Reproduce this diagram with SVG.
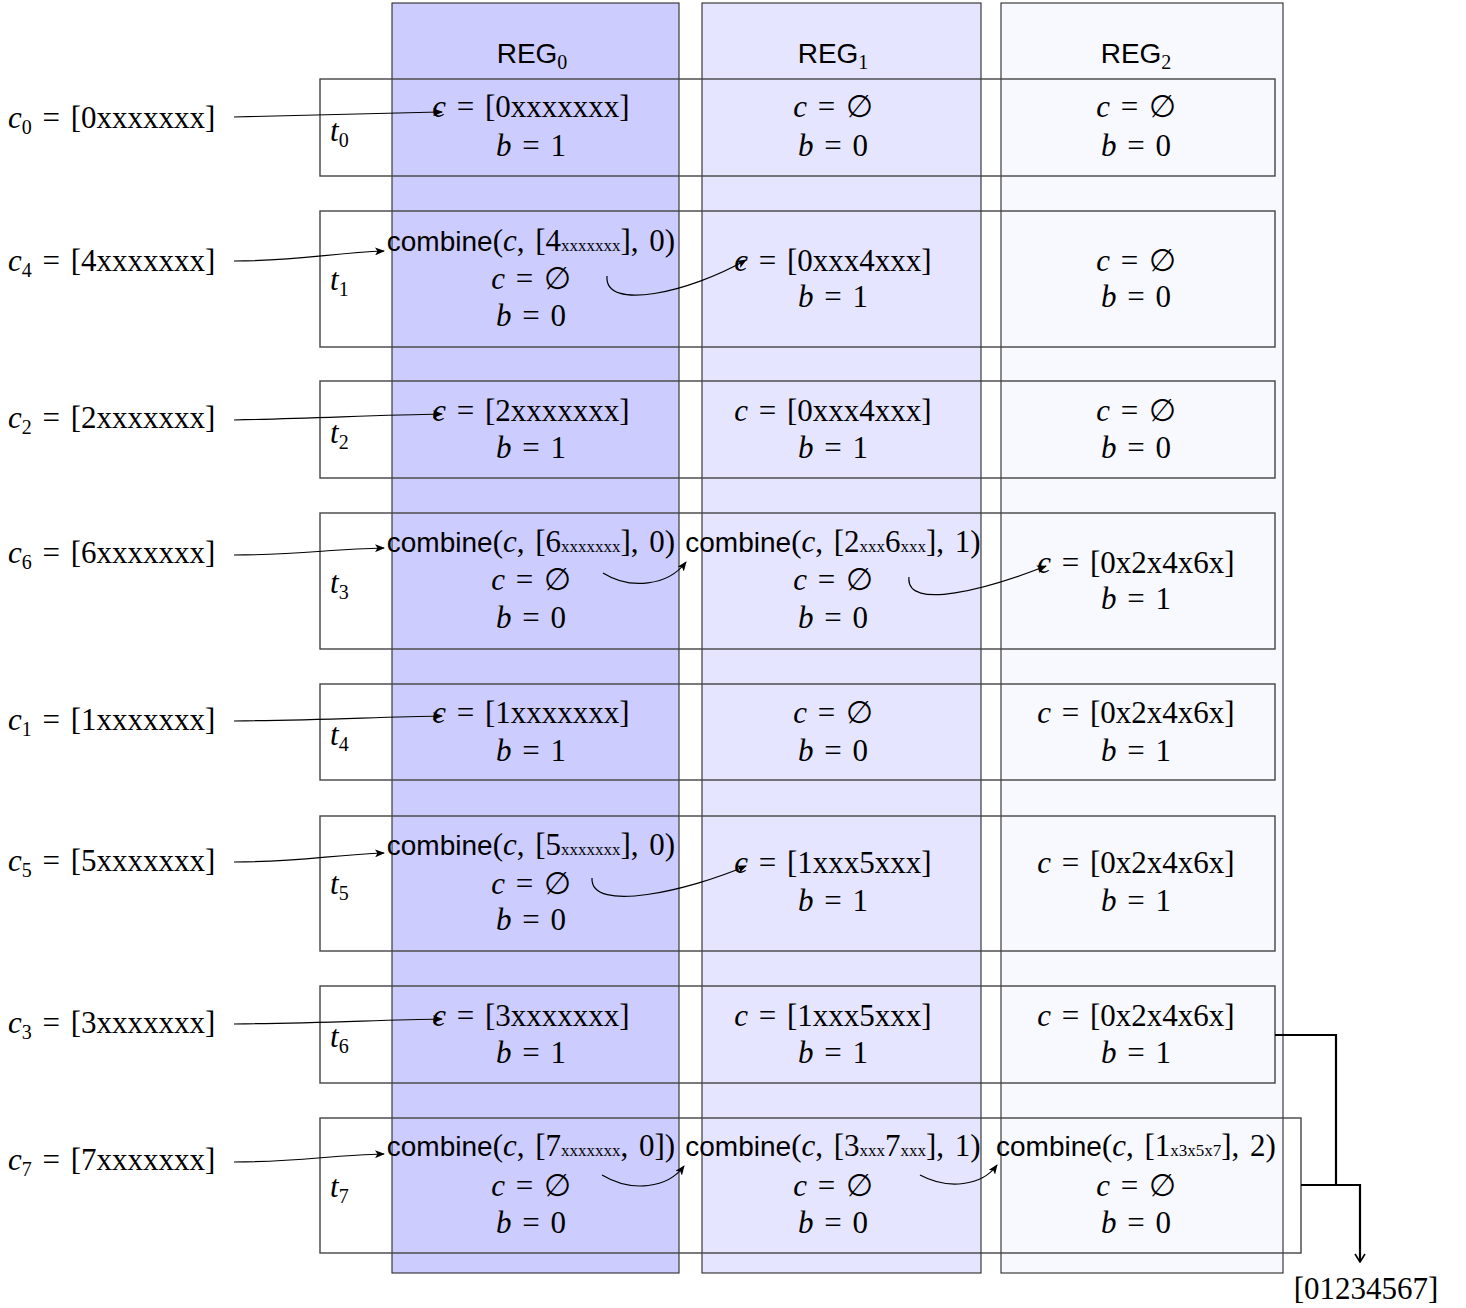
<svg xmlns="http://www.w3.org/2000/svg" width="1466" height="1308" viewBox="0 0 1466 1308">
<defs>
<style>
text{font-family:"Liberation Serif","DejaVu Serif",serif;font-size:31px;fill:#000;word-spacing:3px}
.c{text-anchor:middle}
.it{font-style:italic}
.sf{font-family:"Liberation Sans","DejaVu Sans",sans-serif;font-size:28px}
.sb{font-size:20px}
.tn{font-size:17px}
.col{stroke:#2a2a2a;stroke-width:1.1}
.row{fill:none;stroke:#444;stroke-width:1.4}
.arr{fill:none;stroke:#000;stroke-width:1.2;marker-end:url(#ah)}
.thk{fill:none;stroke:#000;stroke-width:2.2}
</style>
<marker id="ah" viewBox="0 0 10 8" refX="9" refY="4" markerWidth="10" markerHeight="8" markerUnits="userSpaceOnUse" orient="auto">
<path d="M0,0 L10,4 L0,8 L2.5,4 z" fill="#000"/>
</marker>
<marker id="oa" viewBox="0 0 10 12" refX="9" refY="6" markerWidth="10" markerHeight="12" markerUnits="userSpaceOnUse" orient="auto">
<path d="M1,1 L9,6 L1,11" fill="none" stroke="#000" stroke-width="1.6"/>
</marker>
</defs>
<rect width="1466" height="1308" fill="#fff"/>

<!-- register columns -->
<g id="reg0">
<rect class="col" x="392" y="3" width="287" height="1270" fill="#ccccff"/>
<text class="c" x="532" y="63"><tspan class="sf">REG</tspan><tspan class="sb" dy="6">0</tspan></text>
</g>
<g id="reg1">
<rect class="col" x="702" y="3" width="279" height="1270" fill="#e5e5ff"/>
<text class="c" x="833" y="63"><tspan class="sf">REG</tspan><tspan class="sb" dy="6">1</tspan></text>
</g>
<g id="reg2">
<rect class="col" x="1001" y="3" width="282" height="1270" fill="#f8f8ff"/>
<text class="c" x="1136" y="63"><tspan class="sf">REG</tspan><tspan class="sb" dy="6">2</tspan></text>
</g>

<!-- t0 -->
<g id="t0">
<rect class="row" x="320" y="79" width="955" height="97"/>
<text x="330" y="141"><tspan class="it">t</tspan><tspan class="sb" dy="6">0</tspan></text>
<text class="c" x="531" y="117"><tspan class="it">c</tspan> = [0xxxxxxx]</text>
<text class="c" x="531" y="156"><tspan class="it">b</tspan> = 1</text>
<text class="c" x="833" y="117"><tspan class="it">c</tspan> = ∅</text>
<text class="c" x="833" y="156"><tspan class="it">b</tspan> = 0</text>
<text class="c" x="1136" y="117"><tspan class="it">c</tspan> = ∅</text>
<text class="c" x="1136" y="156"><tspan class="it">b</tspan> = 0</text>
</g>

<!-- t1 -->
<g id="t1">
<rect class="row" x="320" y="211" width="955" height="136"/>
<text x="330" y="290"><tspan class="it">t</tspan><tspan class="sb" dy="6">1</tspan></text>
<text class="c" x="531" y="251"><tspan class="sf">combine</tspan>(<tspan class="it">c</tspan>, [4<tspan class="tn">xxxxxxx</tspan>], 0)</text>
<text class="c" x="531" y="289"><tspan class="it">c</tspan> = ∅</text>
<text class="c" x="531" y="326"><tspan class="it">b</tspan> = 0</text>
<text class="c" x="833" y="271"><tspan class="it">c</tspan> = [0xxx4xxx]</text>
<text class="c" x="833" y="307"><tspan class="it">b</tspan> = 1</text>
<text class="c" x="1136" y="271"><tspan class="it">c</tspan> = ∅</text>
<text class="c" x="1136" y="307"><tspan class="it">b</tspan> = 0</text>
</g>

<!-- t2 -->
<g id="t2">
<rect class="row" x="320" y="381" width="955" height="97"/>
<text x="330" y="443"><tspan class="it">t</tspan><tspan class="sb" dy="6">2</tspan></text>
<text class="c" x="531" y="421"><tspan class="it">c</tspan> = [2xxxxxxx]</text>
<text class="c" x="531" y="458"><tspan class="it">b</tspan> = 1</text>
<text class="c" x="833" y="421"><tspan class="it">c</tspan> = [0xxx4xxx]</text>
<text class="c" x="833" y="458"><tspan class="it">b</tspan> = 1</text>
<text class="c" x="1136" y="421"><tspan class="it">c</tspan> = ∅</text>
<text class="c" x="1136" y="458"><tspan class="it">b</tspan> = 0</text>
</g>

<!-- t3 -->
<g id="t3">
<rect class="row" x="320" y="513" width="955" height="136"/>
<text x="330" y="593"><tspan class="it">t</tspan><tspan class="sb" dy="6">3</tspan></text>
<text class="c" x="531" y="552"><tspan class="sf">combine</tspan>(<tspan class="it">c</tspan>, [6<tspan class="tn">xxxxxxx</tspan>], 0)</text>
<text class="c" x="531" y="590"><tspan class="it">c</tspan> = ∅</text>
<text class="c" x="531" y="628"><tspan class="it">b</tspan> = 0</text>
<text class="c" x="833" y="552"><tspan class="sf">combine</tspan>(<tspan class="it">c</tspan>, [2<tspan class="tn">xxx</tspan>6<tspan class="tn">xxx</tspan>], 1)</text>
<text class="c" x="833" y="590"><tspan class="it">c</tspan> = ∅</text>
<text class="c" x="833" y="628"><tspan class="it">b</tspan> = 0</text>
<text class="c" x="1136" y="573"><tspan class="it">c</tspan> = [0x2x4x6x]</text>
<text class="c" x="1136" y="609"><tspan class="it">b</tspan> = 1</text>
</g>

<!-- t4 -->
<g id="t4">
<rect class="row" x="320" y="684" width="955" height="96"/>
<text x="330" y="745"><tspan class="it">t</tspan><tspan class="sb" dy="6">4</tspan></text>
<text class="c" x="531" y="723"><tspan class="it">c</tspan> = [1xxxxxxx]</text>
<text class="c" x="531" y="761"><tspan class="it">b</tspan> = 1</text>
<text class="c" x="833" y="723"><tspan class="it">c</tspan> = ∅</text>
<text class="c" x="833" y="761"><tspan class="it">b</tspan> = 0</text>
<text class="c" x="1136" y="723"><tspan class="it">c</tspan> = [0x2x4x6x]</text>
<text class="c" x="1136" y="761"><tspan class="it">b</tspan> = 1</text>
</g>

<!-- t5 -->
<g id="t5">
<rect class="row" x="320" y="816" width="955" height="135"/>
<text x="330" y="894"><tspan class="it">t</tspan><tspan class="sb" dy="6">5</tspan></text>
<text class="c" x="531" y="855"><tspan class="sf">combine</tspan>(<tspan class="it">c</tspan>, [5<tspan class="tn">xxxxxxx</tspan>], 0)</text>
<text class="c" x="531" y="894"><tspan class="it">c</tspan> = ∅</text>
<text class="c" x="531" y="930"><tspan class="it">b</tspan> = 0</text>
<text class="c" x="833" y="873"><tspan class="it">c</tspan> = [1xxx5xxx]</text>
<text class="c" x="833" y="911"><tspan class="it">b</tspan> = 1</text>
<text class="c" x="1136" y="873"><tspan class="it">c</tspan> = [0x2x4x6x]</text>
<text class="c" x="1136" y="911"><tspan class="it">b</tspan> = 1</text>
</g>

<!-- t6 -->
<g id="t6">
<rect class="row" x="320" y="986" width="955" height="97"/>
<text x="330" y="1047"><tspan class="it">t</tspan><tspan class="sb" dy="6">6</tspan></text>
<text class="c" x="531" y="1026"><tspan class="it">c</tspan> = [3xxxxxxx]</text>
<text class="c" x="531" y="1063"><tspan class="it">b</tspan> = 1</text>
<text class="c" x="833" y="1026"><tspan class="it">c</tspan> = [1xxx5xxx]</text>
<text class="c" x="833" y="1063"><tspan class="it">b</tspan> = 1</text>
<text class="c" x="1136" y="1026"><tspan class="it">c</tspan> = [0x2x4x6x]</text>
<text class="c" x="1136" y="1063"><tspan class="it">b</tspan> = 1</text>
</g>

<!-- t7 -->
<g id="t7">
<rect class="row" x="320" y="1118" width="981" height="135"/>
<text x="330" y="1197"><tspan class="it">t</tspan><tspan class="sb" dy="6">7</tspan></text>
<text class="c" x="531" y="1156"><tspan class="sf">combine</tspan>(<tspan class="it">c</tspan>, [7<tspan class="tn">xxxxxxx</tspan>, 0])</text>
<text class="c" x="531" y="1196"><tspan class="it">c</tspan> = ∅</text>
<text class="c" x="531" y="1233"><tspan class="it">b</tspan> = 0</text>
<text class="c" x="833" y="1156"><tspan class="sf">combine</tspan>(<tspan class="it">c</tspan>, [3<tspan class="tn">xxx</tspan>7<tspan class="tn">xxx</tspan>], 1)</text>
<text class="c" x="833" y="1196"><tspan class="it">c</tspan> = ∅</text>
<text class="c" x="833" y="1233"><tspan class="it">b</tspan> = 0</text>
<text class="c" x="1136" y="1156"><tspan class="sf">combine</tspan>(<tspan class="it">c</tspan>, [1<tspan class="tn">x3x5x7</tspan>], 2)</text>
<text class="c" x="1136" y="1196"><tspan class="it">c</tspan> = ∅</text>
<text class="c" x="1136" y="1233"><tspan class="it">b</tspan> = 0</text>
</g>

<!-- inputs -->
<g id="in-c0"><text x="8" y="128"><tspan class="it">c</tspan><tspan class="sb" dy="6">0</tspan><tspan dy="-6"> = [0xxxxxxx]</tspan></text></g>
<g id="in-c4"><text x="8" y="271"><tspan class="it">c</tspan><tspan class="sb" dy="6">4</tspan><tspan dy="-6"> = [4xxxxxxx]</tspan></text></g>
<g id="in-c2"><text x="8" y="428"><tspan class="it">c</tspan><tspan class="sb" dy="6">2</tspan><tspan dy="-6"> = [2xxxxxxx]</tspan></text></g>
<g id="in-c6"><text x="8" y="563"><tspan class="it">c</tspan><tspan class="sb" dy="6">6</tspan><tspan dy="-6"> = [6xxxxxxx]</tspan></text></g>
<g id="in-c1"><text x="8" y="730"><tspan class="it">c</tspan><tspan class="sb" dy="6">1</tspan><tspan dy="-6"> = [1xxxxxxx]</tspan></text></g>
<g id="in-c5"><text x="8" y="871"><tspan class="it">c</tspan><tspan class="sb" dy="6">5</tspan><tspan dy="-6"> = [5xxxxxxx]</tspan></text></g>
<g id="in-c3"><text x="8" y="1033"><tspan class="it">c</tspan><tspan class="sb" dy="6">3</tspan><tspan dy="-6"> = [3xxxxxxx]</tspan></text></g>
<g id="in-c7"><text x="8" y="1170"><tspan class="it">c</tspan><tspan class="sb" dy="6">7</tspan><tspan dy="-6"> = [7xxxxxxx]</tspan></text></g>

<!-- output -->
<g id="out"><text class="c" x="1366" y="1299">[01234567]</text></g>

<!-- connectors -->
<g id="connectors">
<path class="arr" d="M234,117 C320,115 380,113 442,112"/>
<path class="arr" d="M234,261 C300,261 330,253 384,251"/>
<path class="arr" d="M234,420 C320,418 380,415 442,414"/>
<path class="arr" d="M234,555 C300,555 330,549 384,548"/>
<path class="arr" d="M234,721 C320,720 380,717 442,716"/>
<path class="arr" d="M234,862 C300,862 330,855 384,853"/>
<path class="arr" d="M234,1024 C320,1023 380,1020 442,1019"/>
<path class="arr" d="M234,1162 C300,1162 330,1155 384,1154"/>

<path class="arr" d="M607,276 C604,312 690,292 746,260"/>
<path class="arr" d="M603,573 C630,590 668,586 686,562"/>
<path class="arr" d="M909,577 C905,612 990,588 1046,566"/>
<path class="arr" d="M592,878 C590,914 690,890 746,866"/>
<path class="arr" d="M602,1175 C632,1193 668,1188 684,1166"/>
<path class="arr" d="M920,1175 C948,1190 982,1186 997,1165"/>

<path class="thk" d="M1275,1035 H1336 V1185"/>
<path class="thk" d="M1301,1185 H1360 V1262" marker-end="url(#oa)"/>
</g>
</svg>
